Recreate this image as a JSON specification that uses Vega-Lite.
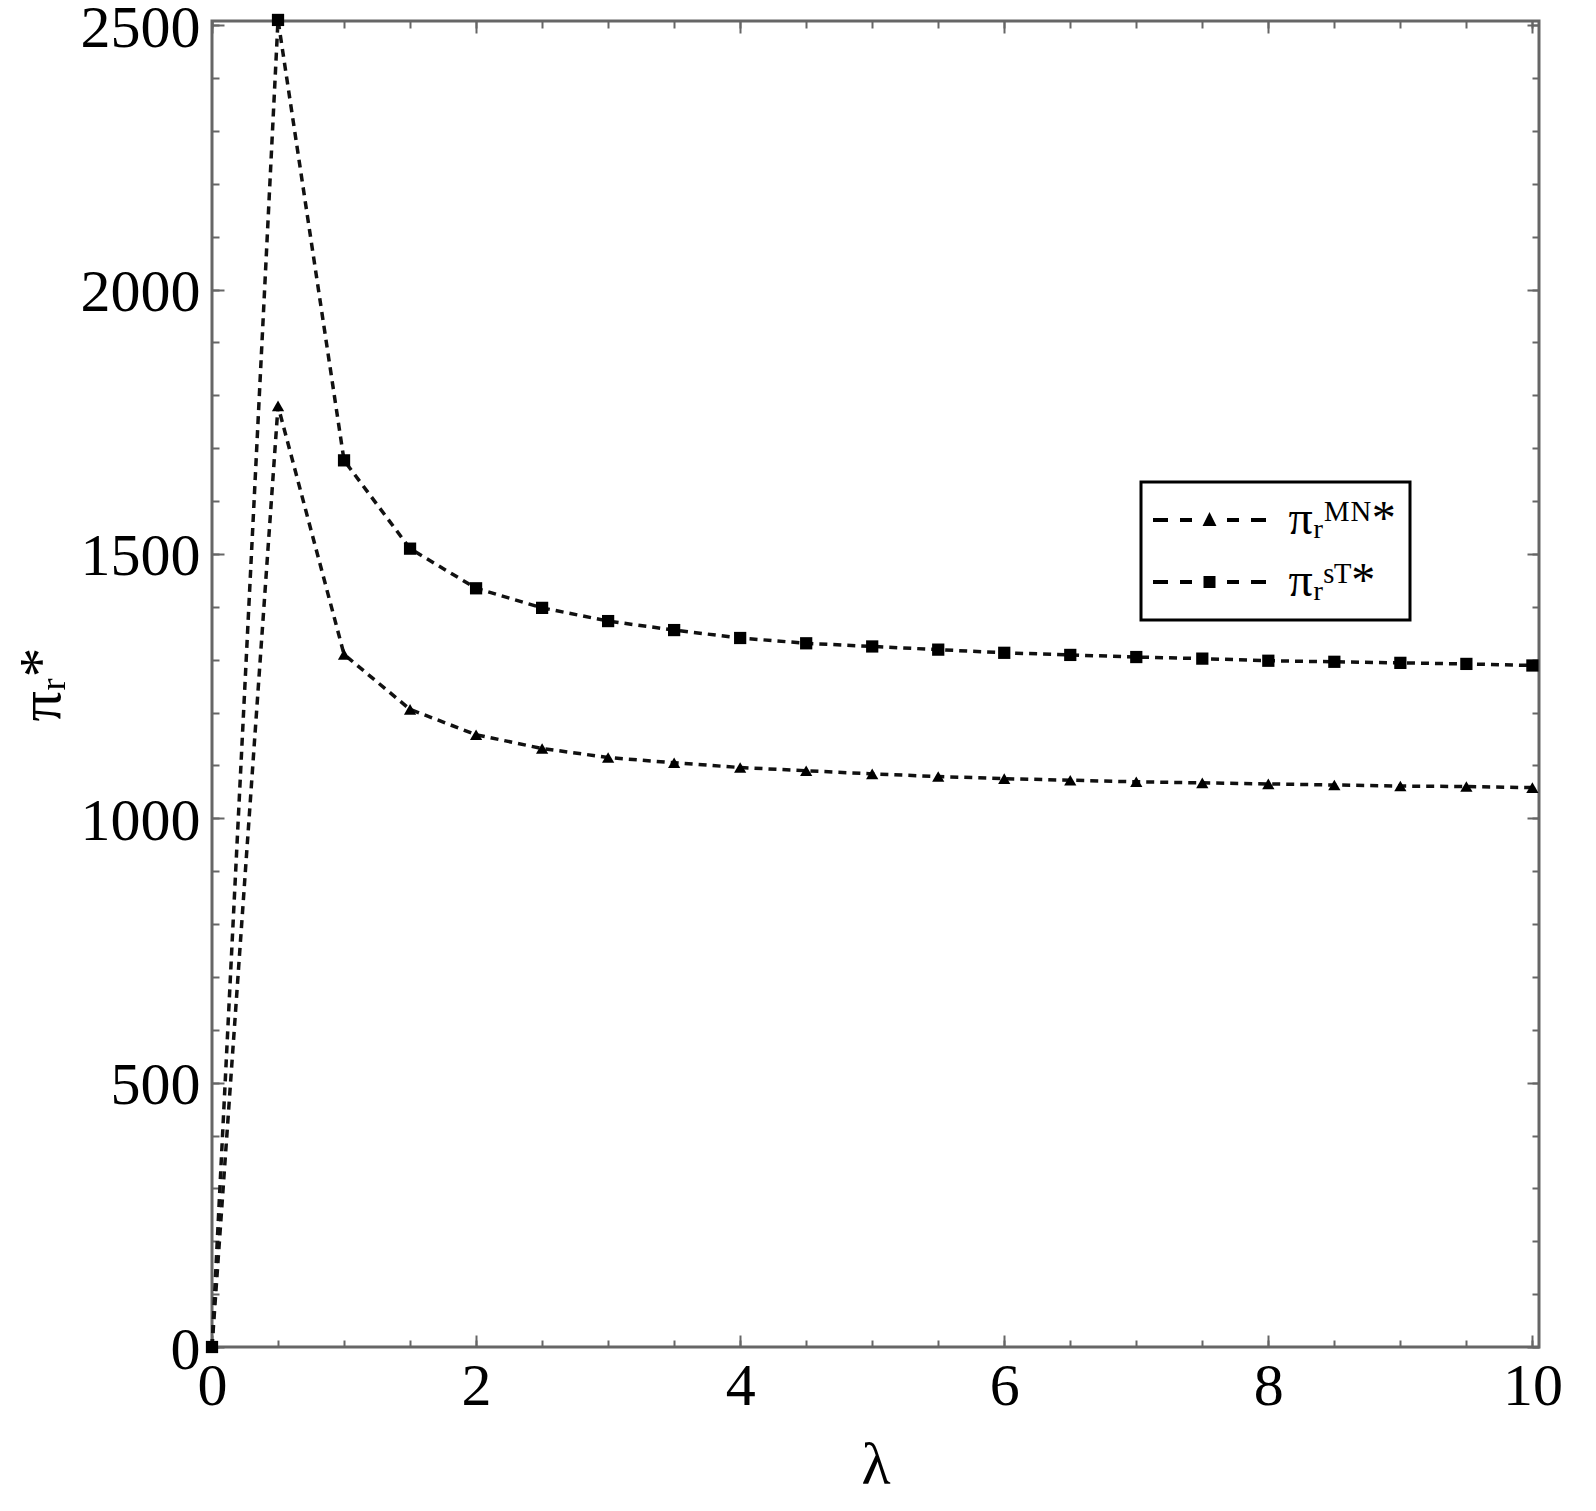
{
  "$schema": "https://vega.github.io/schema/vega-lite/v6.json",
  "autosize": {"type": "none"},
  "padding": {"left": 212, "top": 21, "right": 57, "bottom": 164},
  "width": 1327,
  "height": 1326,
  "background": "white",
  "data": {"values": [
    {"lam": 0, "pi": 0, "s": "MN"},
    {"lam": 0.5, "pi": 1780, "s": "MN"},
    {"lam": 1, "pi": 1310, "s": "MN"},
    {"lam": 1.5, "pi": 1206, "s": "MN"},
    {"lam": 2, "pi": 1158, "s": "MN"},
    {"lam": 2.5, "pi": 1132, "s": "MN"},
    {"lam": 3, "pi": 1115, "s": "MN"},
    {"lam": 3.5, "pi": 1105, "s": "MN"},
    {"lam": 4, "pi": 1096, "s": "MN"},
    {"lam": 4.5, "pi": 1090, "s": "MN"},
    {"lam": 5, "pi": 1084, "s": "MN"},
    {"lam": 5.5, "pi": 1079, "s": "MN"},
    {"lam": 6, "pi": 1075, "s": "MN"},
    {"lam": 6.5, "pi": 1072, "s": "MN"},
    {"lam": 7, "pi": 1069, "s": "MN"},
    {"lam": 7.5, "pi": 1067, "s": "MN"},
    {"lam": 8, "pi": 1065, "s": "MN"},
    {"lam": 8.5, "pi": 1063, "s": "MN"},
    {"lam": 9, "pi": 1061, "s": "MN"},
    {"lam": 9.5, "pi": 1060, "s": "MN"},
    {"lam": 10, "pi": 1058, "s": "MN"},
    {"lam": 0, "pi": 0, "s": "ST"},
    {"lam": 0.5, "pi": 2510, "s": "ST"},
    {"lam": 1, "pi": 1677, "s": "ST"},
    {"lam": 1.5, "pi": 1510, "s": "ST"},
    {"lam": 2, "pi": 1435, "s": "ST"},
    {"lam": 2.5, "pi": 1398, "s": "ST"},
    {"lam": 3, "pi": 1373, "s": "ST"},
    {"lam": 3.5, "pi": 1356, "s": "ST"},
    {"lam": 4, "pi": 1341, "s": "ST"},
    {"lam": 4.5, "pi": 1331, "s": "ST"},
    {"lam": 5, "pi": 1325, "s": "ST"},
    {"lam": 5.5, "pi": 1319, "s": "ST"},
    {"lam": 6, "pi": 1313, "s": "ST"},
    {"lam": 6.5, "pi": 1309, "s": "ST"},
    {"lam": 7, "pi": 1305, "s": "ST"},
    {"lam": 7.5, "pi": 1302, "s": "ST"},
    {"lam": 8, "pi": 1298, "s": "ST"},
    {"lam": 8.5, "pi": 1296, "s": "ST"},
    {"lam": 9, "pi": 1294, "s": "ST"},
    {"lam": 9.5, "pi": 1292, "s": "ST"},
    {"lam": 10, "pi": 1289, "s": "ST"}
  ]},
  "layer": [
    {
      "mark": {"type": "line", "color": "#111111", "strokeWidth": 3.5, "strokeDash": [8, 6]},
      "encoding": {
        "x": {"field": "lam", "type": "quantitative", "scale": {"domain": [0, 10.05], "nice": false, "zero": false},
          "axis": {"orient": "bottom", "values": [0, 2, 4, 6, 8, 10], "format": "d", "ticks": false, "labelPadding": 10, "title": "λ", "titlePadding": 20}},
        "y": {"field": "pi", "type": "quantitative", "scale": {"domain": [0, 2508], "nice": false, "zero": false},
          "axis": {"orient": "left", "values": [0, 500, 1000, 1500, 2000, 2500], "format": "d", "ticks": false, "labelPadding": 12, "labelOffset": 3, "title": "πᵣ*", "titlePadding": 8}},
        "detail": {"field": "s", "type": "nominal"}
      }
    },
    {
      "mark": {"type": "point", "filled": true, "color": "#000000", "opacity": 1, "size": 150},
      "encoding": {
        "x": {"field": "lam", "type": "quantitative", "scale": {"domain": [0, 10.05], "nice": false, "zero": false},
          "axis": {"orient": "bottom", "values": [0, 0.5, 1, 1.5, 2, 2.5, 3, 3.5, 4, 4.5, 5, 5.5, 6, 6.5, 7, 7.5, 8, 8.5, 9, 9.5, 10], "labels": false, "tickSize": -7, "title": null}},
        "y": {"field": "pi", "type": "quantitative", "scale": {"domain": [0, 2508], "nice": false, "zero": false},
          "axis": {"orient": "left", "values": [0, 100, 200, 300, 400, 500, 600, 700, 800, 900, 1000, 1100, 1200, 1300, 1400, 1500, 1600, 1700, 1800, 1900, 2000, 2100, 2200, 2300, 2400, 2500], "labels": false, "tickSize": -7, "title": null}},
        "shape": {"field": "s", "type": "nominal", "scale": {"domain": ["MN", "ST"], "range": ["triangle-up", "square"]}, "legend": null}
      }
    },
    {
      "mark": {"type": "point", "filled": true, "color": "#000000", "opacity": 0, "size": 400},
      "encoding": {
        "x": {"field": "lam", "type": "quantitative", "scale": {"domain": [0, 10.05], "nice": false, "zero": false},
          "axis": {"orient": "bottom", "values": [0, 2, 4, 6, 8, 10], "labels": false, "tickSize": -12, "title": null}},
        "y": {"field": "pi", "type": "quantitative", "scale": {"domain": [0, 2508], "nice": false, "zero": false},
          "axis": {"orient": "left", "values": [0, 500, 1000, 1500, 2000, 2500], "labels": false, "tickSize": -12, "title": null}},
        "shape": {"field": "s", "type": "nominal",
          "scale": {"domain": ["MN", "ST"], "range": [
            "M-5.65,-0.2H-4.15V0.2H-5.65Z M-2.95,-0.2H-1.75V0.2H-2.95Z M-0.7,0.6L0,-0.8L0.7,0.6Z M1.75,-0.2H2.95V0.2H1.75Z M4.15,-0.2H5.65V0.2H4.15Z",
            "M-5.65,-0.2H-4.15V0.2H-5.65Z M-2.95,-0.2H-1.75V0.2H-2.95Z M-0.6,-0.6H0.6V0.6H-0.6Z M1.75,-0.2H2.95V0.2H1.75Z M4.15,-0.2H5.65V0.2H4.15Z"
          ]},
          "legend": {
            "title": null, "orient": "none", "legendX": 929, "legendY": 461,
            "labelExpr": "datum.value == 'MN' ? 'πᵣᴹᴺ*' : 'πᵣˢᵀ*'",
            "symbolOpacity": 1, "symbolFillColor": "#000000", "symbolStrokeWidth": 0, "symbolSize": 400,
            "symbolOffset": 30.5,
            "labelFont": "Liberation Serif", "labelFontSize": 48, "labelColor": "#000000",
            "labelOffset": 55, "rowPadding": 14, "padding": 14,
            "strokeColor": "#000000", "fillColor": "white"
          }
        }
      }
    },
    {
      "mark": {"type": "point", "opacity": 0},
      "encoding": {
        "x": {"field": "lam", "type": "quantitative", "scale": {"domain": [0, 10.05], "nice": false, "zero": false},
          "axis": {"orient": "top", "values": [0, 0.5, 1, 1.5, 2, 2.5, 3, 3.5, 4, 4.5, 5, 5.5, 6, 6.5, 7, 7.5, 8, 8.5, 9, 9.5, 10], "labels": false, "tickSize": -7, "title": null}},
        "y": {"field": "pi", "type": "quantitative", "scale": {"domain": [0, 2508], "nice": false, "zero": false},
          "axis": {"orient": "right", "values": [0, 100, 200, 300, 400, 500, 600, 700, 800, 900, 1000, 1100, 1200, 1300, 1400, 1500, 1600, 1700, 1800, 1900, 2000, 2100, 2200, 2300, 2400, 2500], "labels": false, "tickSize": -7, "title": null}}
      }
    },
    {
      "mark": {"type": "point", "opacity": 0},
      "encoding": {
        "x": {"field": "lam", "type": "quantitative", "scale": {"domain": [0, 10.05], "nice": false, "zero": false},
          "axis": {"orient": "top", "values": [0, 2, 4, 6, 8, 10], "labels": false, "tickSize": -12, "title": null}},
        "y": {"field": "pi", "type": "quantitative", "scale": {"domain": [0, 2508], "nice": false, "zero": false},
          "axis": {"orient": "right", "values": [0, 500, 1000, 1500, 2000, 2500], "labels": false, "tickSize": -12, "title": null}}
      }
    }
  ],
  "resolve": {
    "scale": {"shape": "independent"},
    "axis": {"x": "independent", "y": "independent"}
  },
  "config": {
    "view": {"stroke": "#666666", "strokeWidth": 3},
    "axis": {
      "domain": false, "grid": false,
      "labelFont": "Liberation Serif", "labelFontSize": 60, "labelColor": "#000000",
      "labelFlush": false, "labelOverlap": false,
      "titleFont": "Liberation Serif", "titleFontSize": 60, "titleFontWeight": "normal", "titleColor": "#000000",
      "tickColor": "#666666", "tickWidth": 2
    },
    "legend": {"strokeWidth": 3}
  }
}
